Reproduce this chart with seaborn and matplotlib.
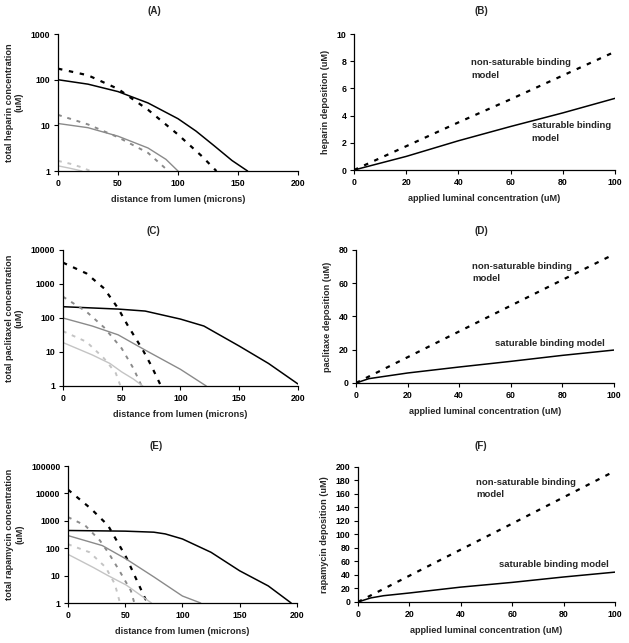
import numpy as np
import pandas as pd
import matplotlib
matplotlib.use('Agg')
import matplotlib.pyplot as plt
import seaborn as sns

# ---- data ----
# (A) heparin, log scale
a_black_solid_x = [0, 25, 50, 75, 100, 115, 130, 145, 158]
a_black_solid_y = [100, 80, 55, 31, 14, 7.5, 3.6, 1.7, 1.0]
a_black_dash_x = [0, 25, 50, 75, 100, 120, 132]
a_black_dash_y = [175, 125, 63, 22, 6.3, 2.1, 1.0]
a_gray_solid_x = [0, 25, 50, 75, 90, 100]
a_gray_solid_y = [11, 8.9, 5.8, 3.2, 1.8, 1.0]
a_gray_dash_x = [0, 25, 50, 75, 92]
a_gray_dash_y = [17, 10.5, 5.5, 2.5, 1.0]
a_light_solid_x = [0, 10, 20]
a_light_solid_y = [1.3, 1.15, 1.0]
a_light_dash_x = [0, 10, 20, 27]
a_light_dash_y = [1.67, 1.45, 1.2, 1.0]

# (C) paclitaxel, log scale
c_black_solid_x = [0, 47, 70, 100, 120, 150, 175, 200]
c_black_solid_y = [215, 183, 160, 93, 58, 15, 4.6, 1.15]
c_black_dash_x = [0, 20, 35, 47, 55, 68, 75, 83.5]
c_black_dash_y = [4260, 2050, 745, 192, 62, 11.5, 4.1, 1.0]
c_gray_solid_x = [0, 25, 47, 70, 100, 122]
c_gray_solid_y = [100, 58, 32, 11.4, 3.1, 1.0]
c_gray_dash_x = [0, 20, 35, 50, 60, 67]
c_gray_dash_y = [425, 154, 53, 12.8, 3.3, 1.0]
c_light_solid_x = [0, 25, 40, 50, 60, 68]
c_light_solid_y = [19, 8.2, 4.6, 2.6, 1.6, 1.0]
c_light_dash_x = [0, 20, 35, 45, 49]
c_light_dash_y = [41, 20, 6.5, 2.4, 1.0]

# (E) rapamycin, log scale
e_black_solid_x = [0, 50, 75, 85, 100, 125, 150, 175, 195]
e_black_solid_y = [444, 420, 385, 333, 218, 71, 15, 4.2, 1.0]
e_black_dash_x = [0, 20, 35, 51, 67, 69.5]
e_black_dash_y = [13800, 2800, 680, 46, 1.6, 1.0]
e_gray_solid_x = [0, 30, 51, 75, 100, 116]
e_gray_solid_y = [290, 125, 40, 9, 1.8, 1.0]
e_gray_dash_x = [0, 15, 28, 36, 45, 55, 58]
e_gray_dash_y = [1370, 680, 190, 62, 15, 2.8, 1.0]
e_light_solid_x = [0, 22, 35, 51, 73]
e_light_solid_y = [60, 20, 10, 4.5, 1.0]
e_light_dash_x = [0, 19, 33, 41, 45.5]
e_light_dash_y = [140, 71, 20, 4.9, 1.0]

# (B) heparin deposition
b_x = [0, 20, 40, 60, 80, 100]
b_sat = [0, 1.0, 2.15, 3.2, 4.2, 5.27]
b_nonsat = [0, 1.75, 3.5, 5.2, 6.95, 8.7]

# (D) paclitaxel deposition
d_x = [0, 5, 20, 40, 60, 80, 100]
d_sat = [0, 2.6, 6, 9.6, 13, 16.6, 19.8]
d_nonsat = [0, 3.9, 15.5, 31, 46.5, 62, 77.4]

# (F) rapamycin deposition
f_x = [0, 5, 10, 20, 40, 60, 80, 100]
f_sat = [0, 6, 9.3, 13.3, 22, 29, 37, 44.2]
f_nonsat = [0, 9.7, 19.4, 38.8, 77.5, 116, 155, 194]

log_ticks_a = [1, 10, 100, 1000]
log_ticks_c = [1, 10, 100, 1000, 10000]
log_ticks_e = [1, 10, 100, 1000, 10000, 100000]

sns.set_style('ticks')
plt.rcParams['font.family'] = ['Liberation Sans', 'DejaVu Sans']
plt.rcParams['font.weight'] = 'bold'
plt.rcParams['axes.labelweight'] = 'bold'

BLACK = '#000000'
GRAY = '#8a8a8a'
LIGHT = '#c4c4c4'
DOT = (0, (2, 3))
FS_TICK = 6.3
FS_LAB = 6.6
FS_ANN = 6.8

fig = plt.figure(figsize=(6.29, 6.43), dpi=100)
axA = fig.add_axes([0.0922, 0.734, 0.3816, 0.213])
axB = fig.add_axes([0.5628, 0.7356, 0.415, 0.2115])
axC = fig.add_axes([0.100, 0.3997, 0.3736, 0.2115])
axD = fig.add_axes([0.566, 0.4044, 0.410, 0.2068])
axE = fig.add_axes([0.108, 0.0622, 0.364, 0.213])
axF = fig.add_axes([0.569, 0.0638, 0.4086, 0.210])


def profile(ax, curves, ticks, ylabel):
    for x, y, col, ls, lw in curves:
        sns.lineplot(x=x, y=y, ax=ax, color=col, linestyle=ls, linewidth=lw)
    ax.set_yscale('log')
    ax.set_xlim(0, 200)
    ax.set_ylim(ticks[0], ticks[-1])
    ax.set_xticks([0, 50, 100, 150, 200])
    ax.set_yticks(ticks)
    ax.set_yticklabels([str(t) for t in ticks])
    ax.minorticks_off()
    ax.set_xlabel('distance from lumen (microns)', fontsize=FS_LAB)
    ax.set_ylabel(ylabel, fontsize=FS_LAB)


def deposition(ax, x, sat, nonsat, ymax, ystep, ylabel, txt1, txt2):
    sns.lineplot(x=x, y=sat, ax=ax, color=BLACK, linewidth=1.1)
    sns.lineplot(x=x, y=nonsat, ax=ax, color=BLACK, linestyle=DOT, linewidth=1.6)
    ax.set_xlim(0, 100)
    ax.set_ylim(0, ymax)
    ax.set_xticks(range(0, 101, 20))
    ax.set_yticks(np.arange(0, ymax + ystep / 2, ystep))
    ax.set_xlabel('applied luminal concentration (uM)', fontsize=FS_LAB)
    ax.set_ylabel(ylabel, fontsize=FS_LAB)
    for tx, ty, s in (txt1, txt2):
        ax.text(tx, ty, s, fontsize=FS_ANN, fontweight='bold', va='top', ha='left',
                linespacing=1.5)


profile(axA, [
    (a_black_dash_x, a_black_dash_y, BLACK, DOT, 1.6),
    (a_black_solid_x, a_black_solid_y, BLACK, '-', 1.1),
    (a_gray_dash_x, a_gray_dash_y, GRAY, DOT, 1.4),
    (a_gray_solid_x, a_gray_solid_y, GRAY, '-', 1.0),
    (a_light_dash_x, a_light_dash_y, LIGHT, DOT, 1.4),
    (a_light_solid_x, a_light_solid_y, LIGHT, '-', 1.0),
], log_ticks_a, 'total heparin concentration\n(uM)')

profile(axC, [
    (c_black_dash_x, c_black_dash_y, BLACK, DOT, 1.6),
    (c_black_solid_x, c_black_solid_y, BLACK, '-', 1.1),
    (c_gray_dash_x, c_gray_dash_y, GRAY, DOT, 1.4),
    (c_gray_solid_x, c_gray_solid_y, GRAY, '-', 1.0),
    (c_light_dash_x, c_light_dash_y, LIGHT, DOT, 1.4),
    (c_light_solid_x, c_light_solid_y, LIGHT, '-', 1.0),
], log_ticks_c, 'total paclitaxel concentration\n(uM)')

profile(axE, [
    (e_black_dash_x, e_black_dash_y, BLACK, DOT, 1.6),
    (e_black_solid_x, e_black_solid_y, BLACK, '-', 1.1),
    (e_gray_dash_x, e_gray_dash_y, GRAY, DOT, 1.4),
    (e_gray_solid_x, e_gray_solid_y, GRAY, '-', 1.0),
    (e_light_dash_x, e_light_dash_y, LIGHT, DOT, 1.4),
    (e_light_solid_x, e_light_solid_y, LIGHT, '-', 1.0),
], log_ticks_e, 'total rapamycin concentration\n(uM)')

deposition(axB, b_x, b_sat, b_nonsat, 10, 2, 'heparin deposition (uM)',
           (45, 8.2, 'non-saturable binding\nmodel'), (68, 3.6, 'saturable binding\nmodel'))
deposition(axD, d_x, d_sat, d_nonsat, 80, 20, 'paclitaxe deposition (uM)',
           (45, 73, 'non-saturable binding\nmodel'), (54, 26.5, 'saturable binding model'))
deposition(axF, f_x, f_sat, f_nonsat, 200, 20, 'rapamycin deposition (uM)',
           (46, 184, 'non-saturable binding\nmodel'), (55, 62, 'saturable binding model'))

for ax in [axA, axB, axC, axD, axE, axF]:
    sns.despine(ax=ax)
    ax.tick_params(labelsize=FS_TICK, length=3, width=0.8, colors='black', pad=2.5)
    for lab in ax.get_xticklabels() + ax.get_yticklabels():
        lab.set_fontweight('bold')
    for s in ['left', 'bottom']:
        ax.spines[s].set_color('black')
        ax.spines[s].set_linewidth(0.9)
    ax.xaxis.labelpad = 5
    ax.yaxis.labelpad = 5

# panel letters
FS_T = 7
fig.text(154 / 629, 1 - 11 / 643, '(A)', ha='center', va='center', fontsize=FS_T, fontweight='bold')
fig.text(481 / 629, 1 - 11 / 643, '(B)', ha='center', va='center', fontsize=FS_T, fontweight='bold')
fig.text(153 / 629, 1 - 231 / 643, '(C)', ha='center', va='center', fontsize=FS_T, fontweight='bold')
fig.text(481 / 629, 1 - 231 / 643, '(D)', ha='center', va='center', fontsize=FS_T, fontweight='bold')
fig.text(156 / 629, 1 - 446 / 643, '(E)', ha='center', va='center', fontsize=FS_T, fontweight='bold')
fig.text(481 / 629, 1 - 446 / 643, '(F)', ha='center', va='center', fontsize=FS_T, fontweight='bold')

fig.savefig('out.png', dpi=100)
